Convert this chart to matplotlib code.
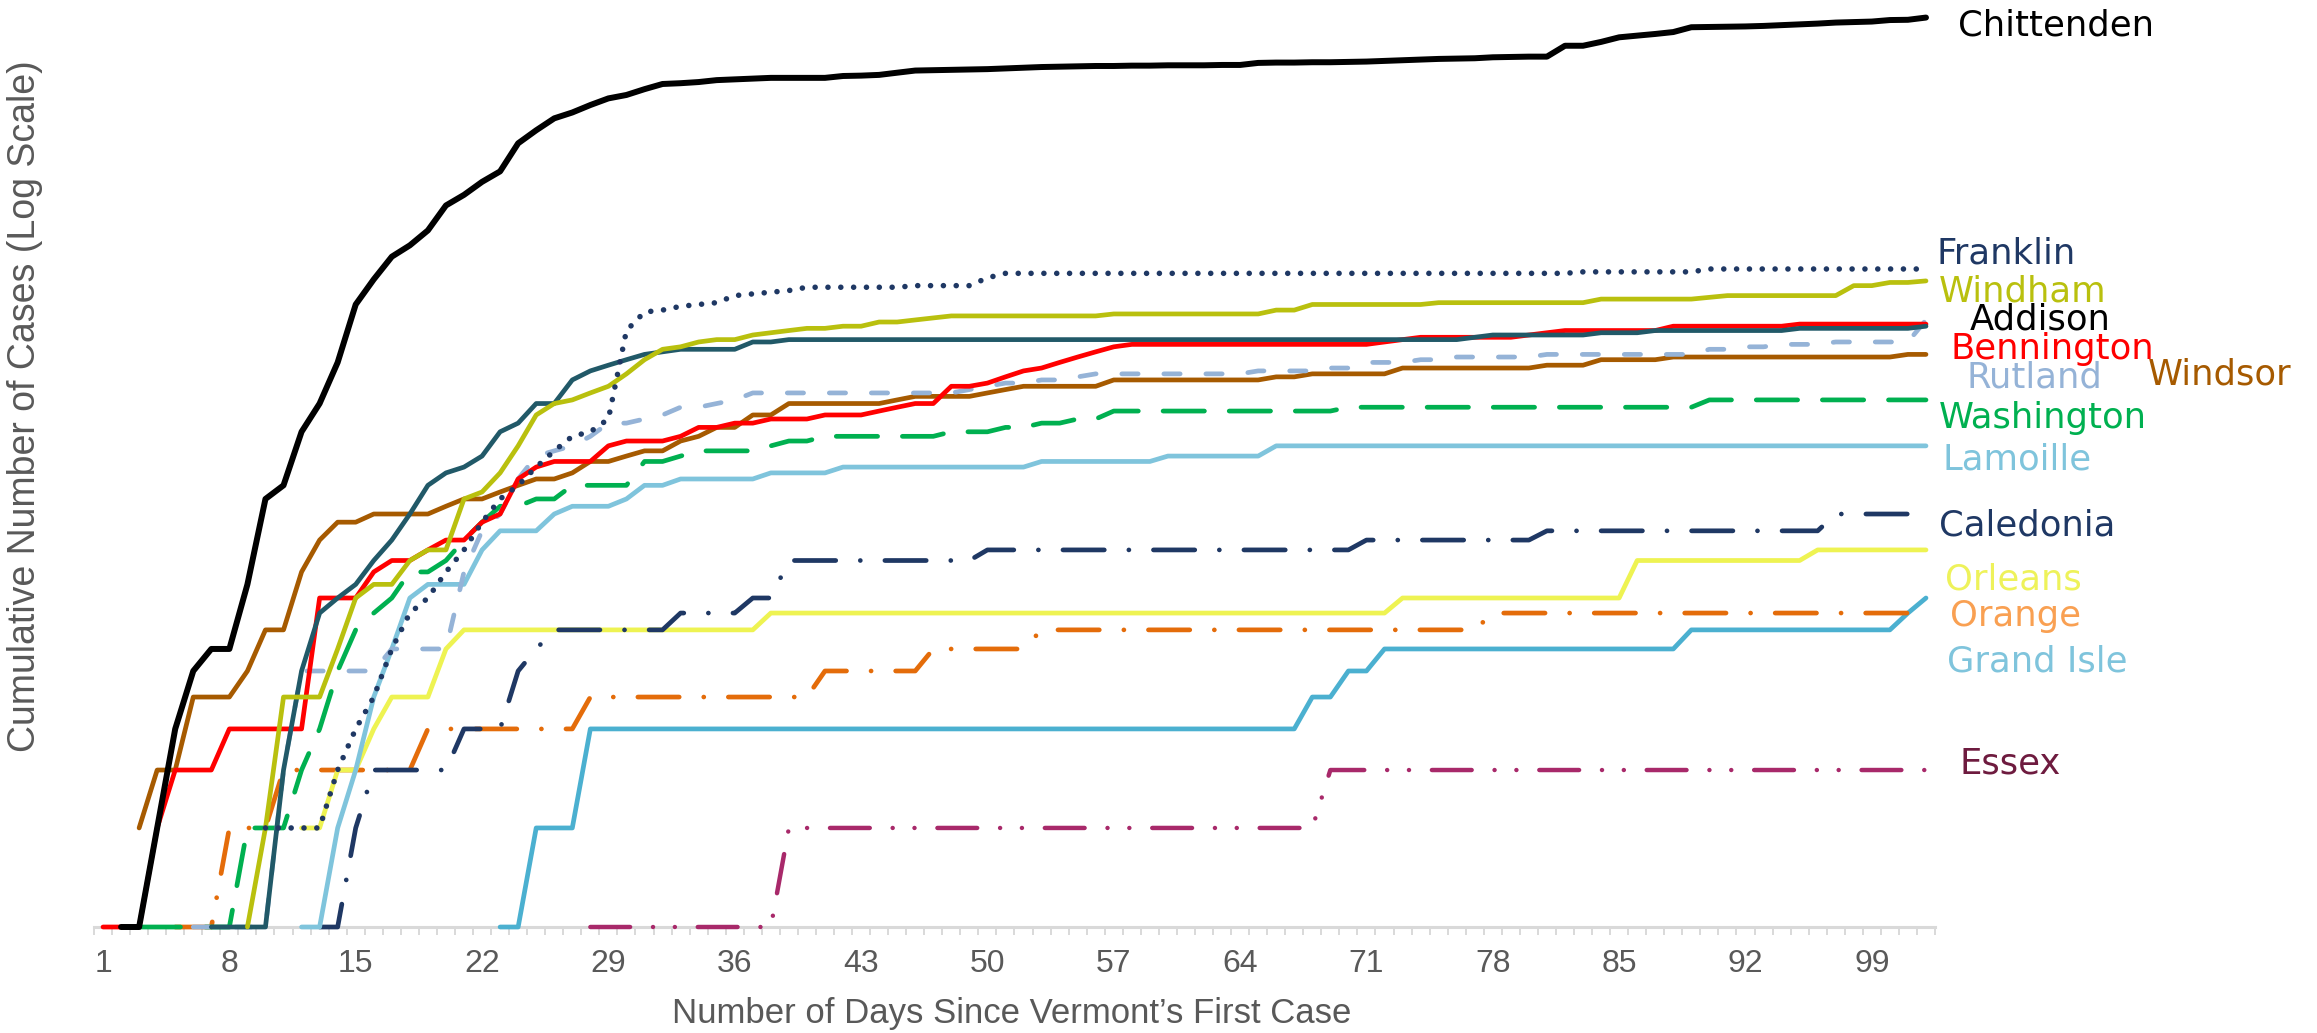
import numpy as np
import matplotlib
matplotlib.use("Agg")
import matplotlib.pyplot as plt

plt.rcParams["font.family"] = ["Liberation Sans", "DejaVu Sans"]

# cumulative cases by county, days 1..102 since Vermont's first case (None = no case yet)
days = list(range(1, 103))
tick_days = [1, 8, 15, 22, 29, 36, 43, 50, 57, 64, 71, 78, 85, 92, 99]

chittenden = [
    None, 1, 1, 2, 4, 6, 7, 7, 11, 20,
    22, 32, 39, 52, 78, 93, 109, 118, 131, 156,
    168, 184, 198, 241, 264, 287, 299, 315, 330, 338,
    352, 365, 367, 370, 375, 377, 379, 381, 381, 381,
    381, 386, 387, 389, 395, 401, 402, 403, 404, 405,
    407, 409, 411, 412, 413, 414, 414, 415, 415, 416,
    416, 416, 417, 417, 423, 424, 424, 425, 425, 426,
    427, 429, 431, 433, 435, 436, 437, 440, 441, 442,
    442, 477, 477, 490, 506, 512, 518, 525, 543, 544,
    545, 546, 548, 551, 554, 557, 561, 563, 565, 571,
    572, 581]
franklin = [
    None, None, None, None, None, None, None, None, None, 2,
    2, 2, 2, 3, 4, 5, 7, 9, 10, 12,
    14, 17, 20, 22, 25, 28, 31, 32, 35, 65,
    74, 75, 77, 78, 79, 83, 84, 85, 86, 88,
    88, 88, 88, 88, 88, 89, 89, 89, 89, 94,
    97, 97, 97, 97, 97, 97, 97, 97, 97, 97,
    97, 97, 97, 97, 97, 97, 97, 97, 97, 97,
    97, 97, 97, 97, 97, 97, 97, 97, 97, 97,
    97, 97, 98, 98, 98, 98, 98, 98, 98, 100,
    100, 100, 100, 100, 100, 100, 100, 100, 100, 100,
    100, 100]
windham = [
    None, None, None, None, None, None, None, None, 1, 2,
    5, 5, 5, 7, 10, 11, 11, 13, 14, 14,
    20, 21, 24, 29, 36, 39, 40, 42, 44, 48,
    53, 57, 58, 60, 61, 61, 63, 64, 65, 66,
    66, 67, 67, 69, 69, 70, 71, 72, 72, 72,
    72, 72, 72, 72, 72, 72, 73, 73, 73, 73,
    73, 73, 73, 73, 73, 75, 75, 78, 78, 78,
    78, 78, 78, 78, 79, 79, 79, 79, 79, 79,
    79, 79, 79, 81, 81, 81, 81, 81, 81, 82,
    83, 83, 83, 83, 83, 83, 83, 89, 89, 91,
    91, 92]
addison = [
    None, None, None, None, None, None, 1, 1, 1, 1,
    3, 6, 9, 10, 11, 13, 15, 18, 22, 24,
    25, 27, 32, 34, 39, 39, 46, 49, 51, 53,
    55, 56, 57, 57, 57, 57, 60, 60, 61, 61,
    61, 61, 61, 61, 61, 61, 61, 61, 61, 61,
    61, 61, 61, 61, 61, 61, 61, 61, 61, 61,
    61, 61, 61, 61, 61, 61, 61, 61, 61, 61,
    61, 61, 61, 61, 61, 61, 62, 63, 63, 63,
    63, 63, 63, 64, 64, 64, 65, 65, 65, 65,
    65, 65, 65, 65, 66, 66, 66, 66, 66, 66,
    66, 67]
bennington = [
    1, 1, 1, 2, 3, 3, 3, 4, 4, 4,
    4, 4, 10, 10, 10, 12, 13, 13, 14, 15,
    15, 17, 18, 23, 25, 26, 26, 26, 29, 30,
    30, 30, 31, 33, 33, 34, 34, 35, 35, 35,
    36, 36, 36, 37, 38, 39, 39, 44, 44, 45,
    47, 49, 50, 52, 54, 56, 58, 59, 59, 59,
    59, 59, 59, 59, 59, 59, 59, 59, 59, 59,
    59, 60, 61, 62, 62, 62, 62, 62, 62, 63,
    64, 65, 65, 65, 65, 65, 65, 67, 67, 67,
    67, 67, 67, 67, 68, 68, 68, 68, 68, 68,
    68, 68]
rutland = [
    None, None, None, None, None, 1, 1, 1, 1, 1,
    3, 6, 6, 6, 6, 6, 7, 7, 7, 7,
    12, 16, 18, 23, 27, 28, 29, 31, 34, 34,
    35, 36, 38, 38, 39, 40, 42, 42, 42, 42,
    42, 42, 42, 42, 42, 42, 42, 42, 43, 44,
    45, 45, 46, 46, 47, 48, 48, 48, 48, 48,
    48, 48, 48, 48, 49, 49, 49, 49, 50, 50,
    52, 52, 52, 53, 53, 54, 54, 54, 54, 54,
    55, 55, 55, 55, 55, 55, 55, 55, 55, 57,
    57, 58, 58, 59, 59, 59, 60, 60, 60, 60,
    60, 70]
windsor = [
    None, None, 2, 3, 3, 5, 5, 5, 6, 8,
    8, 12, 15, 17, 17, 18, 18, 18, 18, 19,
    20, 20, 21, 22, 23, 23, 24, 26, 26, 27,
    28, 28, 30, 31, 33, 33, 36, 36, 39, 39,
    39, 39, 39, 39, 40, 41, 41, 41, 41, 42,
    43, 44, 44, 44, 44, 44, 46, 46, 46, 46,
    46, 46, 46, 46, 46, 47, 47, 48, 48, 48,
    48, 48, 50, 50, 50, 50, 50, 50, 50, 50,
    51, 51, 51, 53, 53, 53, 53, 54, 54, 54,
    54, 54, 54, 54, 54, 54, 54, 54, 54, 54,
    55, 55]
washington = [
    None, None, 1, 1, 1, 1, 1, 1, 2, 2,
    2, 3, 4, 6, 8, 9, 10, 12, 12, 13,
    15, 17, 19, 19, 20, 20, 22, 22, 22, 22,
    26, 26, 27, 28, 28, 28, 28, 29, 30, 30,
    31, 31, 31, 31, 31, 31, 31, 32, 32, 32,
    33, 33, 34, 34, 35, 35, 37, 37, 37, 37,
    37, 37, 37, 37, 37, 37, 37, 37, 37, 38,
    38, 38, 38, 38, 38, 38, 38, 38, 38, 38,
    38, 38, 38, 38, 38, 38, 38, 38, 38, 40,
    40, 40, 40, 40, 40, 40, 40, 40, 40, 40,
    40, 40]
lamoille = [
    None, None, None, None, None, None, None, None, None, None,
    None, 1, 1, 2, 3, 5, 7, 10, 11, 11,
    11, 14, 16, 16, 16, 18, 19, 19, 19, 20,
    22, 22, 23, 23, 23, 23, 23, 24, 24, 24,
    24, 25, 25, 25, 25, 25, 25, 25, 25, 25,
    25, 25, 26, 26, 26, 26, 26, 26, 26, 27,
    27, 27, 27, 27, 27, 29, 29, 29, 29, 29,
    29, 29, 29, 29, 29, 29, 29, 29, 29, 29,
    29, 29, 29, 29, 29, 29, 29, 29, 29, 29,
    29, 29, 29, 29, 29, 29, 29, 29, 29, 29,
    29, 29]
caledonia = [
    None, None, None, None, None, None, None, None, None, None,
    None, None, 1, 1, 2, 3, 3, 3, 3, 3,
    4, 4, 4, 6, 7, 8, 8, 8, 8, 8,
    8, 8, 9, 9, 9, 9, 10, 10, 13, 13,
    13, 13, 13, 13, 13, 13, 13, 13, 13, 14,
    14, 14, 14, 14, 14, 14, 14, 14, 14, 14,
    14, 14, 14, 14, 14, 14, 14, 14, 14, 14,
    15, 15, 15, 15, 15, 15, 15, 15, 15, 15,
    16, 16, 16, 16, 16, 16, 16, 16, 16, 16,
    16, 16, 16, 16, 16, 16, 18, 18, 18, 18,
    18, 18]
orleans = [
    None, None, None, None, None, None, None, None, None, None,
    None, 2, 2, 3, 3, 4, 5, 5, 5, 7,
    8, 8, 8, 8, 8, 8, 8, 8, 8, 8,
    8, 8, 8, 8, 8, 8, 8, 9, 9, 9,
    9, 9, 9, 9, 9, 9, 9, 9, 9, 9,
    9, 9, 9, 9, 9, 9, 9, 9, 9, 9,
    9, 9, 9, 9, 9, 9, 9, 9, 9, 9,
    9, 9, 10, 10, 10, 10, 10, 10, 10, 10,
    10, 10, 10, 10, 10, 13, 13, 13, 13, 13,
    13, 13, 13, 13, 13, 14, 14, 14, 14, 14,
    14, 14]
orange = [
    None, None, None, None, 1, 1, 1, 2, 2, 2,
    3, 3, 3, 3, 3, 3, 3, 3, 4, 4,
    4, 4, 4, 4, 4, 4, 4, 5, 5, 5,
    5, 5, 5, 5, 5, 5, 5, 5, 5, 5,
    6, 6, 6, 6, 6, 6, 7, 7, 7, 7,
    7, 7, 8, 8, 8, 8, 8, 8, 8, 8,
    8, 8, 8, 8, 8, 8, 8, 8, 8, 8,
    8, 8, 8, 8, 8, 8, 8, 9, 9, 9,
    9, 9, 9, 9, 9, 9, 9, 9, 9, 9,
    9, 9, 9, 9, 9, 9, 9, 9, 9, 9,
    9, 9]
grand_isle = [
    None, None, None, None, None, None, None, None, None, None,
    None, None, None, None, None, None, None, None, None, None,
    None, None, 1, 1, 2, 2, 2, 4, 4, 4,
    4, 4, 4, 4, 4, 4, 4, 4, 4, 4,
    4, 4, 4, 4, 4, 4, 4, 4, 4, 4,
    4, 4, 4, 4, 4, 4, 4, 4, 4, 4,
    4, 4, 4, 4, 4, 4, 4, 5, 5, 6,
    6, 7, 7, 7, 7, 7, 7, 7, 7, 7,
    7, 7, 7, 7, 7, 7, 7, 7, 8, 8,
    8, 8, 8, 8, 8, 8, 8, 8, 8, 8,
    9, 10]
essex = [
    None, None, None, None, None, None, None, None, None, None,
    None, None, None, None, None, None, None, None, None, None,
    None, None, None, None, None, None, None, 1, 1, 1,
    1, 1, 1, 1, 1, 1, 1, 1, 2, 2,
    2, 2, 2, 2, 2, 2, 2, 2, 2, 2,
    2, 2, 2, 2, 2, 2, 2, 2, 2, 2,
    2, 2, 2, 2, 2, 2, 2, 2, 3, 3,
    3, 3, 3, 3, 3, 3, 3, 3, 3, 3,
    3, 3, 3, 3, 3, 3, 3, 3, 3, 3,
    3, 3, 3, 3, 3, 3, 3, 3, 3, 3,
    3, 3]

# line styles (dash lengths in units of line width)
dot = (0, (0.01, 2.3))
dash = (0, (3.45, 5.45))
long_dash = (0, (8.75, 5.25))
dash_dot = (0, (8.75, 5.2, 0.01, 5.2))
dash_dot_dot = (0, (8.95, 5.15, 0.01, 4.9, 0.01, 5.15))

# name, values, line colour, style, width, label colour, label position (px)
series = [
    ("Essex", essex, "#A8296A", dash_dot_dot, 3.2, "#6E1B3F", (1960, 764)),
    ("Grand Isle", grand_isle, "#4BB0D0", "-", 3.4, "#7FC4DC", (1947, 662)),
    ("Orange", orange, "#E46C0A", dash_dot, 3.4, "#F9A052", (1950, 616)),
    ("Orleans", orleans, "#EEF352", "-", 3.4, "#EEF25A", (1945, 580)),
    ("Caledonia", caledonia, "#1F3864", dash_dot, 3.4, "#1F3864", (1939, 526)),
    ("Lamoille", lamoille, "#7FC4DC", "-", 3.4, "#7FC4DC", (1942, 460)),
    ("Washington", washington, "#00B050", long_dash, 3.4, "#00B050", (1939, 418)),
    ("Windsor", windsor, "#A65A00", "-", 3.4, "#A65A00", (2148, 374)),
    ("Rutland", rutland, "#95B3D7", dash, 3.4, "#95B3D7", (1967, 378)),
    ("Bennington", bennington, "#FF0000", "-", 3.4, "#FF0000", (1951, 349)),
    ("Addison", addison, "#215968", "-", 3.4, "#000000", (1970, 319)),
    ("Windham", windham, "#B9C00E", "-", 3.4, "#B9C00E", (1939, 292)),
    ("Franklin", franklin, "#1F3864", dot, 4.0, "#1F3864", (1936, 253)),
    ("Chittenden", chittenden, "#000000", "-", 4.3, "#000000", (1958, 26)),
]

W, H = 2317, 1033
fig = plt.figure(figsize=(W / 100, H / 100), dpi=100)
ax = fig.add_axes([94 / W, 106 / H, (1935 - 94) / W, 927 / H])
ax.set_yscale("log")

for name, vals, color, style, lw, lab_color, (px, py) in series:
    ax.plot(days, np.array(vals, dtype=float), color=color, lw=lw, linestyle=style,
            dash_capstyle="round", solid_capstyle="round", solid_joinstyle="round",
            clip_on=False, zorder=3)
    fig.text(px / W, 1 - py / H, name, color=lab_color, fontsize=25.5,
             family="DejaVu Sans", ha="left", va="center")

ax.set_xlim(0.5, 102.5)
ax.set_ylim(1, 657)

for s in ["left", "top", "right"]:
    ax.spines[s].set_visible(False)
ax.spines["bottom"].set_color("#D9D9D9")
ax.spines["bottom"].set_linewidth(2.2)

ax.tick_params(axis="y", which="both", left=False, labelleft=False)
ax.set_xticks(tick_days)
ax.set_xticklabels([str(d) for d in tick_days])
ax.set_xticks(np.arange(0.5, 103, 1), minor=True)
ax.tick_params(axis="x", which="major", length=0, pad=16, labelsize=23, labelcolor="#595959")
ax.tick_params(axis="x", which="minor", length=6, width=1.4, color="#D9D9D9")

fig.text(1012 / W, 1 - 1014 / H, "Number of Days Since Vermont\u2019s First Case",
         ha="center", va="center", fontsize=25, color="#595959")
fig.text(25 / W, 1 - 406 / H, "Cumulative Number of Cases (Log Scale)", rotation=90,
         ha="center", va="center", fontsize=27, color="#595959")

fig.savefig("out.png", dpi=100)
plt.close(fig)
